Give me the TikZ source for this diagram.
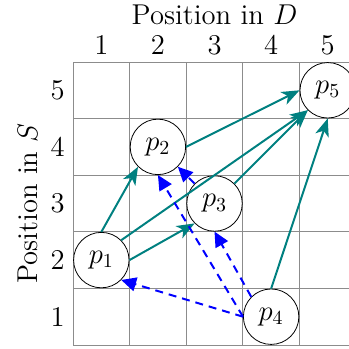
\documentclass[tikz,border=0pt]{standalone}
\usepackage{amsmath}
\usepackage{tikz}
\usetikzlibrary{arrows.meta}

\begin{document}
\begin{tikzpicture}[font=\Large, >={Stealth[length=9pt, width=7pt, inset=2.5pt]},
  pnode/.style={draw, circle, fill=white, minimum size=0.98cm, inner sep=0pt},
  fwd/.style={->, line width=1pt, teal},
  back/.style={-{Triangle[length=7.5pt, width=7pt]}, line width=1pt, dash pattern=on 4pt off 3pt, blue}]
  \useasboundingbox (-1.29,-0.07) rectangle (4.876,6.095);
  \draw[gray!90, thin] (0,0) grid (5,5);
  \node at (2.5,5.83) {Position in $D$};
  \node[rotate=90] at (-0.8,2.5) {Position in $S$};
  \node at (0.5,5.3) {1};
  \node at (1.5,5.3) {2};
  \node at (2.5,5.3) {3};
  \node at (3.5,5.3) {4};
  \node at (4.5,5.3) {5};
  \node at (-0.27,0.5) {1};
  \node at (-0.27,1.5) {2};
  \node at (-0.27,2.5) {3};
  \node at (-0.27,3.5) {4};
  \node at (-0.27,4.5) {5};
  \node[pnode] (p1) at (0.5,1.5) {$p_1$};
  \node[pnode] (p2) at (1.5,3.5) {$p_2$};
  \node[pnode] (p3) at (2.5,2.5) {$p_3$};
  \node[pnode] (p4) at (3.5,0.5) {$p_4$};
  \node[pnode] (p5) at (4.5,4.5) {$p_5$};
  \draw[fwd] (p1.north) -- (p2.south west);
  \draw[fwd] (p1.east) -- (p3.south west);
  \draw[fwd] (p1.north east) -- (p5.south west);
  \draw[fwd] (p2.east) -- (p5.west);
  \draw[fwd] (p3.north east) -- (p5.south west);
  \draw[fwd] (p4.north) -- (p5.south);
  \draw[back] (p4.west) -- (p1.south east);
  \draw[back] (p4.west) -- (p2.south);
  \draw[back] (p4.north west) -- (p3.south);
  \draw[back] (p3.north west) -- (p2.south east);
\end{tikzpicture}
\end{document}
